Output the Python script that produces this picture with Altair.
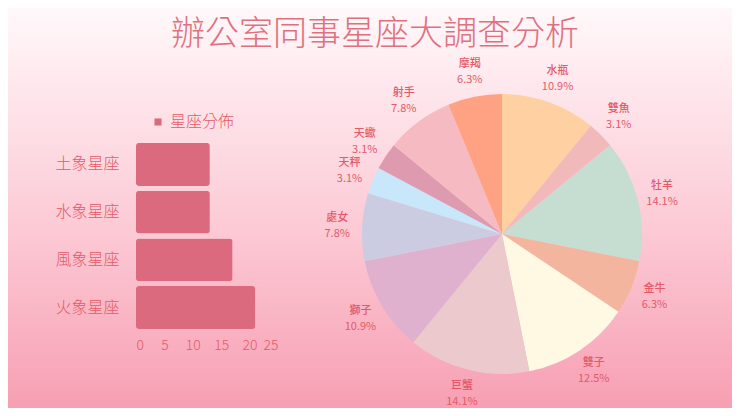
import altair as alt
import pandas as pd

# ── Palette ────────────────────────────────────────────────────────
TEXT_RED = "#E45A68"
TITLE_RED = "#E0707E"
BAR = "#DC6A7E"
BG_TOP = "#FFF8FA"
BG_MID = "#FCCAD5"
BG_BOTTOM = "#F79FB3"

W, H = 724, 400
FONT_HAND = "Noto Sans CJK TC"
FONT_LABEL = "Noto Sans CJK TC"

# ── Data ───────────────────────────────────────────────────────────
elements = ["土象星座", "水象星座", "風象星座", "火象星座"]
element_counts = [13, 13, 17, 21]

signs = ["水瓶", "雙魚", "牡羊", "金牛", "雙子", "巨蟹",
         "獅子", "處女", "天秤", "天蠍", "射手", "摩羯"]
sign_counts = [7, 2, 9, 4, 8, 9, 7, 5, 2, 2, 5, 4]
sign_pcts = ["10.9%", "3.1%", "14.1%", "6.3%", "12.5%", "14.1%",
             "10.9%", "7.8%", "3.1%", "3.1%", "7.8%", "6.3%"]
sign_colours = ["#FFD0A2", "#F2B9BA", "#C6DDD1", "#F4B59E", "#FFF8E2", "#EBC9CD",
                "#DFB1CF", "#CBCCE1", "#C9E7FA", "#DE9BB0", "#F6BBC2", "#FFA283"]

pie_df = pd.DataFrame({
    "sign": signs,
    "count": sign_counts,
    "order": list(range(len(signs))),
    "pct": sign_pcts,
})
bar_df = pd.DataFrame({"element": elements, "count": element_counts, "series": "星座分佈"})

# ── Background gradient + title ────────────────────────────────────
background = (
    alt.Chart(pd.DataFrame({"k": [0]}))
    .mark_rect(
        color=alt.LinearGradient(
            gradient="linear",
            stops=[
                alt.GradientStop(offset=0, color=BG_TOP),
                alt.GradientStop(offset=0.55, color=BG_MID),
                alt.GradientStop(offset=1, color=BG_BOTTOM),
            ],
            x1=0, x2=0, y1=0, y2=1,
        )
    )
    .encode(x=alt.value(0), x2=alt.value(W), y=alt.value(0), y2=alt.value(H))
)

title = (
    alt.Chart(pd.DataFrame({"t": ["辦公室同事星座大調查分析"]}))
    .mark_text(font=FONT_HAND, fontSize=34, fontWeight=300, color=TITLE_RED, align="center", baseline="middle")
    .encode(text="t:N", x=alt.value(367), y=alt.value(27))
)

# ── Bars (element groups) ──────────────────────────────────────────
# Axes sit on top of the gradient rect (zindex=1) and are pulled inward
# with negative offsets since the whole chart lives inside one view.
bars = (
    alt.Chart(bar_df)
    .mark_bar(cornerRadius=3)
    .encode(
        x=alt.X(
            "count:Q",
            scale=alt.Scale(domain=[0, 25], range=[128, 270]),
            axis=alt.Axis(
                title=None, values=[0, 5, 10, 15, 20, 25], grid=False, domain=False, ticks=False,
                labelColor=TEXT_RED, labelFont=FONT_HAND, labelFontSize=14, labelFontWeight=300,
                labelPadding=0, offset=-70, zindex=1,
            ),
        ),
        y=alt.Y(
            "element:N",
            sort=elements,
            scale=alt.Scale(range=[134, 322], paddingInner=0.1, paddingOuter=0.02),
            axis=alt.Axis(
                title=None, grid=False, domain=False, ticks=False,
                labelColor=TEXT_RED, labelFont=FONT_HAND, labelFontSize=16, labelFontWeight=300,
                labelPadding=17, offset=-128, zindex=1,
            ),
        ),
        color=alt.Color(
            "series:N",
            scale=alt.Scale(domain=["星座分佈"], range=[BAR]),
            legend=alt.Legend(
                title=None, orient="none", legendX=142, legendY=106, symbolType="square",
                symbolSize=50, labelColor=TEXT_RED, labelFont=FONT_HAND, labelFontSize=16,
                labelFontWeight=300,
            ),
        ),
    )
)

# ── Pie (signs) ────────────────────────────────────────────────────
CX, CY = 494, 226
pie_base = alt.Chart(pie_df).encode(
    theta=alt.Theta("count:Q", stack=True),
    order=alt.Order("order:Q"),
    x=alt.value(CX),
    y=alt.value(CY),
)

slices = pie_base.mark_arc(radius=140).encode(
    color=alt.Color("sign:N", scale=alt.Scale(domain=signs, range=sign_colours), legend=None),
)

names = pie_base.mark_text(
    radius=165, dy=-8, font=FONT_LABEL, fontSize=11, fontWeight=500, color=TEXT_RED
).encode(text="sign:N")

pcts = pie_base.mark_text(
    radius=165, dy=8, font=FONT_LABEL, fontSize=11, fontWeight=400, color=TEXT_RED
).encode(text="pct:N")

chart = (
    alt.layer(background, title, bars, slices, names, pcts)
    .resolve_scale(color="independent")
    .properties(width=W, height=H, padding=0, autosize=alt.AutoSizeParams(type="none"))
    .configure_view(stroke=None)
    .configure(background=BG_TOP)
)

chart.save("out.html", embed_options={"renderer": "svg", "actions": False})
